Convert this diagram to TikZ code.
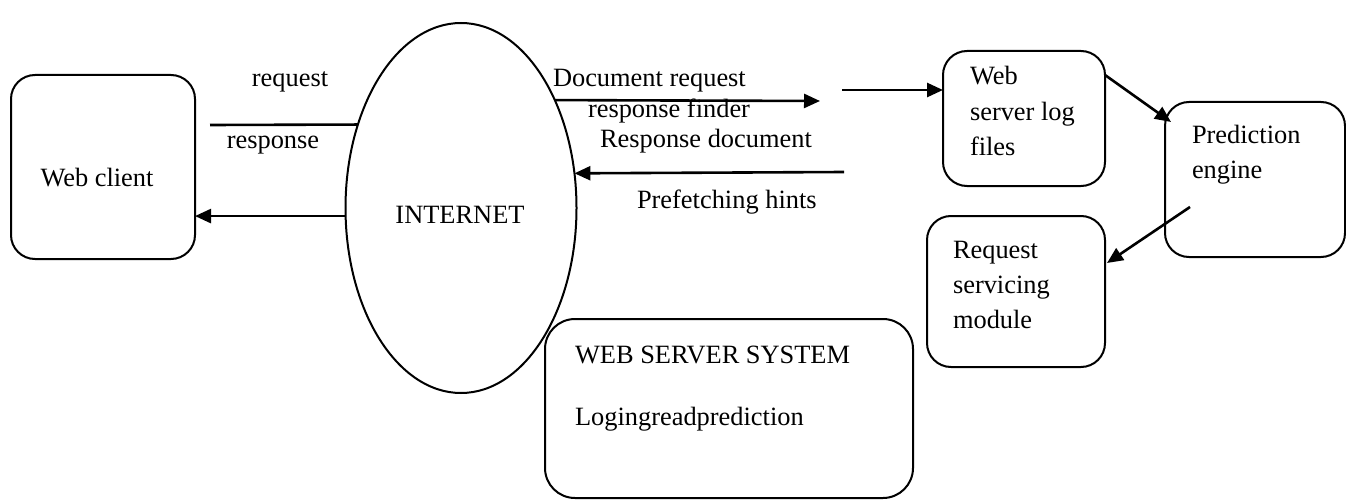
\documentclass[tikz,border=0pt]{standalone}
\usepackage{fontspec}
\setmainfont{Liberation Serif}
\usetikzlibrary{arrows.meta,shapes.geometric}

\tikzset{
  box/.style={draw, line width=2pt, rounded corners=24pt, inner sep=0pt, outer sep=0pt},
  cloud/.style={draw, ellipse, line width=2pt, inner sep=0pt, outer sep=0pt},
  txt/.style={inner sep=0pt, outer sep=0pt, font=\fontsize{26.4}{35.5}\selectfont},
  link/.style={line width=2.6pt},
  arr/.style={line width=2.6pt, -{Triangle[length=16pt,width=14pt]}}
}

\begin{document}
\begin{tikzpicture}[x=1pt, y=-1pt]
\useasboundingbox (0,0) rectangle (1346,500);

% boxes
\node[box, minimum width=184pt, minimum height=184pt] (client) at (103,167) {};
\node[cloud, minimum width=231pt, minimum height=370pt] (inet) at (461,208) {};
\node[box, minimum width=162pt, minimum height=135pt] (log) at (1024,118.5) {};
\node[box, minimum width=180pt, minimum height=155pt] (pred) at (1255,179.5) {};
\node[box, minimum width=178pt, minimum height=151pt] (reqmod) at (1016,291.5) {};
\node[box, rounded corners=30pt, minimum width=368pt, minimum height=179pt] (wss) at (729,408.5) {};

% texts in the boxes
\node[txt, anchor=base] (clientT) at (97,186) {Web client};
\node[txt, anchor=base] (inetT) at (460,223) {INTERNET};
\node[txt, anchor=base west] (logT1) at (970,85) {Web};
\node[txt, anchor=base west] (logT2) at (970,121) {server log};
\node[txt, anchor=base west] (logT3) at (970,156) {files};
\node[txt, anchor=base west] (predT1) at (1192,143) {Prediction};
\node[txt, anchor=base west] (predT2) at (1192,178) {engine};
\node[txt, anchor=base west] (reqT1) at (953,258) {Request};
\node[txt, anchor=base west] (reqT2) at (953,293) {servicing};
\node[txt, anchor=base west] (reqT3) at (953,328) {module};
\node[txt, anchor=base west] (wssT1) at (575,363) {WEB SERVER SYSTEM};
\node[txt, anchor=base west] (wssT2) at (575,425) {Logingreadprediction};

% connector labels
\node[txt, anchor=base] (lblReq) at (290,87) {request};
\node[txt, anchor=base] (lblResp) at (273,148) {response};
\node[txt, anchor=base west] (lblDoc) at (553,87) {Document request};
\node[txt, anchor=base west] (lblFind) at (588,118) {response finder};
\node[txt, anchor=base west] (lblRDoc) at (600,147) {Response document};
\node[txt, anchor=base west] (lblHint) at (637,208) {Prefetching hints};

% free ends of connectors
\coordinate (reqStart) at (210,125);
\coordinate (docEnd) at (820,101);
\coordinate (rdStart) at (844,172);
\coordinate (logIn) at (842,90);
\coordinate (lpStart) at (1105,75);
\coordinate (lpEnd) at (1171,122);
\coordinate (prStart) at (1190,207);
\coordinate (prEnd) at (1107,263);

% connectors
\draw[link] (reqStart) -- (inet.141.2);
\draw[arr] (inet.184) -- (inet.184 -| client.east);
\draw[arr] (inet.49.8) -- (docEnd);
\draw[arr] (rdStart) -- (inet.17.6);
\draw[arr] (logIn) -- (logIn -| log.west);
\draw[arr] (lpStart) -- (lpEnd);
\draw[arr] (prStart) -- (prEnd);
\end{tikzpicture}
\end{document}
